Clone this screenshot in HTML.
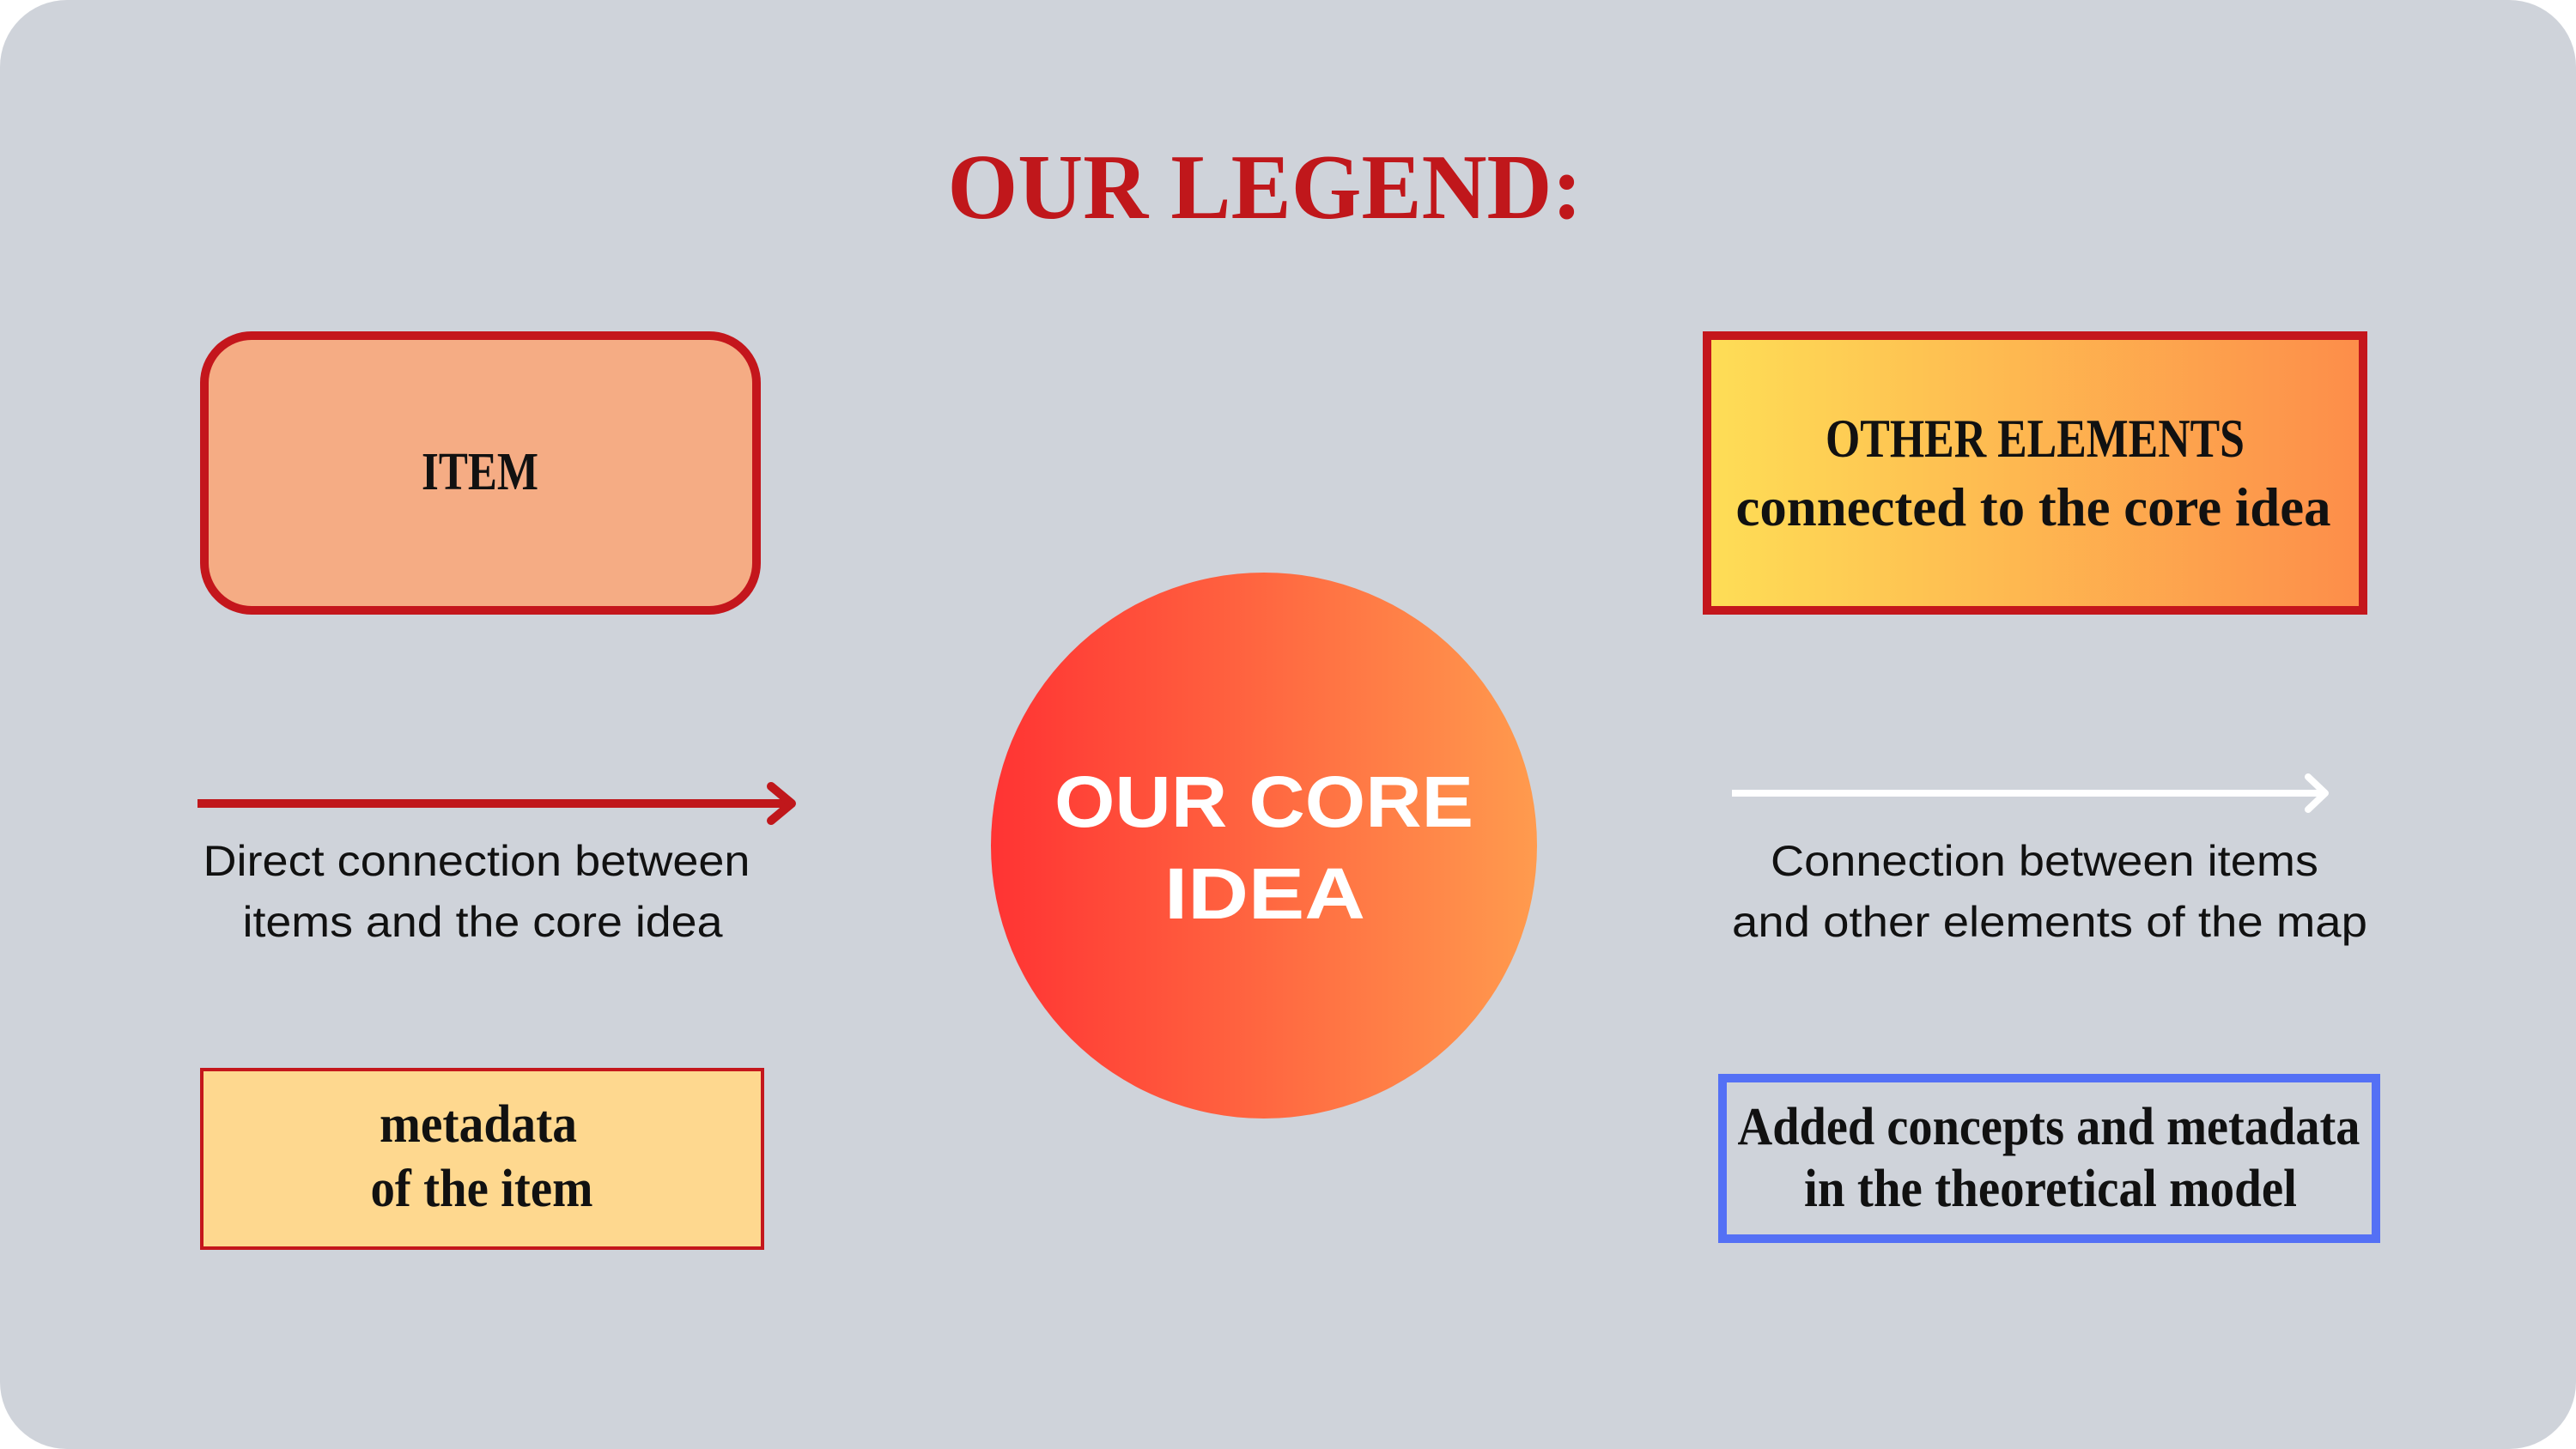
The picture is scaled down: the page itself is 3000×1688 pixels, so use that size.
<!DOCTYPE html>
<html><head><meta charset="utf-8"><style>
html,body{margin:0;padding:0;background:#fff;}
svg{display:block;}
.sl{font-family:"Liberation Serif",serif;font-weight:600;fill:#111;}
.sn{font-family:"Liberation Sans",sans-serif;fill:#111;}
</style></head><body>
<svg width="3000" height="1688" viewBox="0 0 3000 1688">
<defs>
<linearGradient id="gOther" x1="0" x2="1" y1="0" y2="0"><stop offset="0" stop-color="#fede56"/><stop offset="1" stop-color="#fd8d4a"/></linearGradient>
<linearGradient id="gCore" x1="0" x2="1" y1="0" y2="0"><stop offset="0" stop-color="#ff3333"/><stop offset="1" stop-color="#ff9b4e"/></linearGradient>
</defs>
<rect x="0" y="0" width="3000" height="1688" rx="78" fill="#cfd3da"/>
<text x="1473" y="254" text-anchor="middle" textLength="739" lengthAdjust="spacingAndGlyphs" font-family="Liberation Serif,serif" font-weight="bold" font-size="108" fill="#c0171b">OUR LEGEND:</text>

<g>
<rect x="238" y="391" width="643" height="320" rx="55" fill="#f5ac84" stroke="#c4161c" stroke-width="10"/>
<text class="sl" x="559" y="570" text-anchor="middle" font-size="62" textLength="136" lengthAdjust="spacingAndGlyphs">ITEM</text>
</g>

<g>
<rect x="1988" y="391" width="764" height="320" fill="url(#gOther)" stroke="#c4161c" stroke-width="10"/>
<text class="sl" x="2370" y="532" text-anchor="middle" font-size="64" textLength="488" lengthAdjust="spacingAndGlyphs">OTHER ELEMENTS</text>
<text class="sl" x="2368" y="612" text-anchor="middle" font-size="64" textLength="693" lengthAdjust="spacingAndGlyphs">connected to the core idea</text>
</g>

<g>
<circle cx="1472" cy="985" r="318" fill="url(#gCore)"/>
<text x="1472" y="963" text-anchor="middle" font-family="Liberation Sans,sans-serif" font-weight="bold" font-size="84" fill="#fff" textLength="488" lengthAdjust="spacingAndGlyphs">OUR CORE</text>
<text x="1473" y="1070" text-anchor="middle" font-family="Liberation Sans,sans-serif" font-weight="bold" font-size="84" fill="#fff" textLength="234" lengthAdjust="spacingAndGlyphs">IDEA</text>
</g>

<g>
<line x1="230" y1="936" x2="922" y2="936" stroke="#c0171b" stroke-width="10"/>
<polyline points="898,916 922,936 898,956" fill="none" stroke="#c0171b" stroke-width="10" stroke-linecap="round" stroke-linejoin="round"/>
<text class="sn" x="555" y="1020" text-anchor="middle" font-size="50" textLength="637" lengthAdjust="spacingAndGlyphs">Direct connection between</text>
<text class="sn" x="562" y="1091" text-anchor="middle" font-size="50" textLength="559" lengthAdjust="spacingAndGlyphs">items and the core idea</text>
</g>

<g>
<line x1="2017" y1="924" x2="2708" y2="924" stroke="#fff" stroke-width="8"/>
<polyline points="2688,905 2708,924 2688,943" fill="none" stroke="#fff" stroke-width="8" stroke-linecap="round" stroke-linejoin="round"/>
<text class="sn" x="2381" y="1020" text-anchor="middle" font-size="50" textLength="638" lengthAdjust="spacingAndGlyphs">Connection between items</text>
<text class="sn" x="2387" y="1091" text-anchor="middle" font-size="50" textLength="740" lengthAdjust="spacingAndGlyphs">and other elements of the map</text>
</g>

<g>
<rect x="235" y="1246" width="653" height="208" fill="#fed88f" stroke="#c4161c" stroke-width="4"/>
<text class="sl" x="557" y="1330" text-anchor="middle" font-size="62" textLength="230" lengthAdjust="spacingAndGlyphs">metadata</text>
<text class="sl" x="561" y="1405" text-anchor="middle" font-size="62" textLength="259" lengthAdjust="spacingAndGlyphs">of the item</text>
</g>

<g>
<rect x="2006" y="1256" width="761" height="187" fill="none" stroke="#5470f5" stroke-width="10"/>
<text class="sl" x="2386" y="1333" text-anchor="middle" font-size="62" textLength="725" lengthAdjust="spacingAndGlyphs">Added concepts and metadata</text>
<text class="sl" x="2388" y="1405" text-anchor="middle" font-size="62" textLength="574" lengthAdjust="spacingAndGlyphs">in the theoretical model</text>
</g>
</svg>
</body></html>
